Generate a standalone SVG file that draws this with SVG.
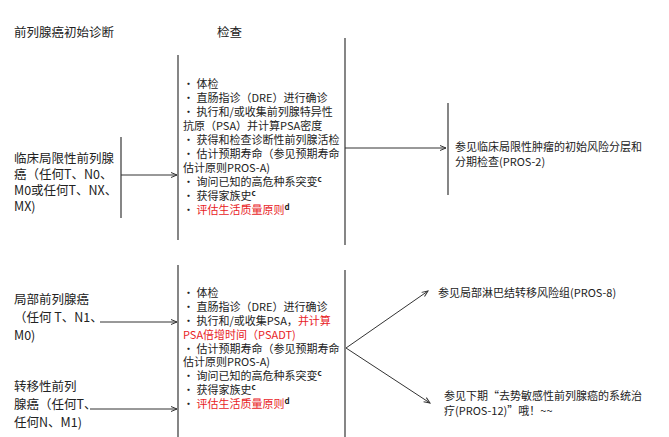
<svg xmlns="http://www.w3.org/2000/svg" width="669" height="437" viewBox="0 0 669 437">
<defs>
<style>
text{font-family:"Noto Sans CJK SC","Liberation Sans",sans-serif;fill:#222;}
.h{font-size:12.5px}
.l{font-size:12.5px}
.b{font-size:11px}
.r{fill:#e8231f}
.s{font-size:8px;font-weight:bold;fill:#222}
line{stroke:#333;stroke-width:1}
.v{stroke:#444;stroke-width:1.3}
</style>
<marker id="a" markerWidth="8" markerHeight="8" refX="7" refY="4" orient="auto" markerUnits="userSpaceOnUse"><path d="M1,1.5 L7,4 L1,6.5" fill="none" stroke="#333" stroke-width="1"/></marker>
</defs>
<rect width="669" height="437" fill="#fff"/>
<g id="headers">
<text class="h" x="14" y="37">前列腺癌初始诊断</text>
<text class="h" x="217" y="37">检查</text>
</g>
<g id="n-local">
<text class="l" x="14" y="163">临床局限性前列腺</text>
<text class="l" x="14" y="179">癌（任何T、N0、</text>
<text class="l" x="14" y="195">M0或任何T、NX、</text>
<text class="l" x="14" y="211">MX)</text>
</g>
<g id="n-exam1" class="b">
<text x="183" y="88">• 体检</text>
<text x="183" y="102">• 直肠指诊（DRE）进行确诊</text>
<text x="183" y="116">• 执行和/或收集前列腺特异性</text>
<text x="183" y="130">抗原（PSA）并计算PSA密度</text>
<text x="183" y="144">• 获得和检查诊断性前列腺活检</text>
<text x="183" y="158">• 估计预期寿命（参见预期寿命</text>
<text x="183" y="172">估计原则PROS-A)</text>
<text x="183" y="186">• 询问已知的高危种系突变<tspan class="s" dy="-4">c</tspan></text>
<text x="183" y="200">• 获得家族史<tspan class="s" dy="-4">c</tspan></text>
<text x="183" y="214">• <tspan class="r">评估生活质量原则</tspan><tspan class="s" dy="-4">d</tspan></text>
</g>
<g id="n-pros2" class="b">
<text x="455" y="151">参见临床局限性肿瘤的初始风险分层和</text>
<text x="455" y="166">分期检查(PROS-2)</text>
</g>
<g id="n-regional">
<text class="l" x="14" y="304">局部前列腺癌</text>
<text class="l" x="14" y="322">（任何 T、N1、</text>
<text class="l" x="14" y="340">M0)</text>
</g>
<g id="n-meta">
<text class="l" x="14" y="391">转移性前列</text>
<text class="l" x="14" y="409">腺癌（任何T、</text>
<text class="l" x="14" y="427">任何N、M1)</text>
</g>
<g id="n-exam2" class="b">
<text x="183" y="297">• 体检</text>
<text x="183" y="311">• 直肠指诊（DRE）进行确诊</text>
<text x="183" y="325">• 执行和/或收集PSA，<tspan class="r">并计算</tspan></text>
<text x="183" y="339" class="r">PSA倍增时间（PSADT)</text>
<text x="183" y="353">• 估计预期寿命（参见预期寿命</text>
<text x="183" y="366">估计原则PROS-A)</text>
<text x="183" y="380">• 询问已知的高危种系突变<tspan class="s" dy="-4">c</tspan></text>
<text x="183" y="394">• 获得家族史<tspan class="s" dy="-4">c</tspan></text>
<text x="183" y="408">• <tspan class="r">评估生活质量原则</tspan><tspan class="s" dy="-4">d</tspan></text>
</g>
<g id="n-pros8" class="b"><text x="438" y="297">参见局部淋巴结转移风险组(PROS-8)</text></g>
<g id="n-pros12" class="b">
<text x="444" y="400">参见下期“去势敏感性前列腺癌的系统治</text>
<text x="444" y="415">疗(PROS-12)”哦！~~</text>
</g>
<g id="connectors">
<line class="v" x1="121" y1="137" x2="121" y2="218"/>
<line class="v" x1="178" y1="55" x2="178" y2="240"/>
<line class="v" x1="345" y1="38" x2="345" y2="245"/>
<line class="v" x1="448" y1="103" x2="448" y2="195"/>
<line class="v" x1="178" y1="265" x2="178" y2="437"/>
<line class="v" x1="345" y1="270" x2="345" y2="437"/>
<line x1="121" y1="175" x2="177" y2="175" marker-end="url(#a)"/>
<line x1="345" y1="148" x2="446" y2="148" marker-end="url(#a)"/>
<line x1="100" y1="322" x2="177" y2="322" marker-end="url(#a)"/>
<line x1="90" y1="409" x2="177" y2="409" marker-end="url(#a)"/>
<line x1="346" y1="348" x2="428" y2="291" marker-end="url(#a)"/>
<line x1="346" y1="348" x2="430" y2="403" marker-end="url(#a)"/>
</g>
</svg>
